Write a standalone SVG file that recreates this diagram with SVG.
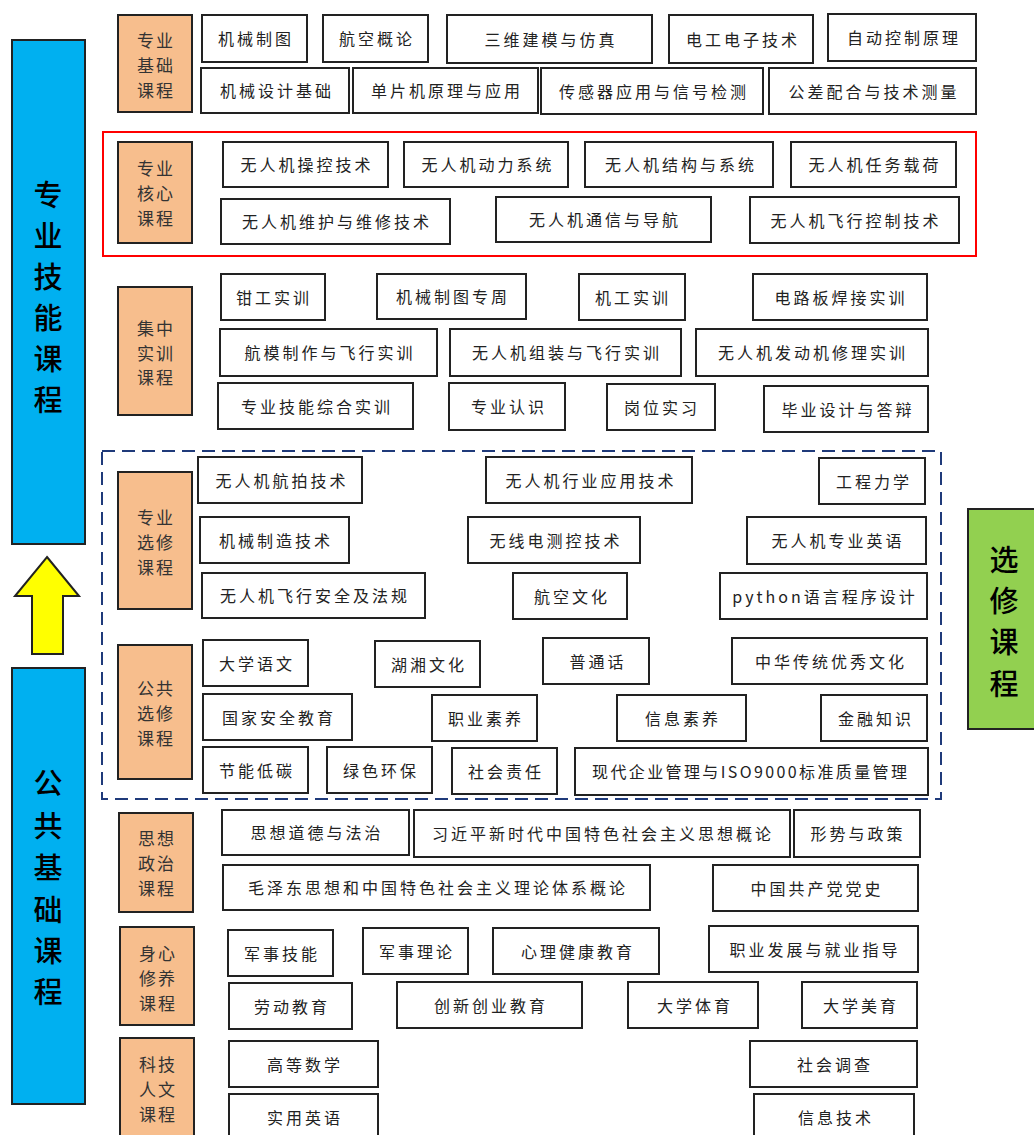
<svg xmlns="http://www.w3.org/2000/svg" width="1034" height="1135" viewBox="0 0 1034 1135">
<style>
.n rect{fill:#fff;stroke:#222;stroke-width:2}
.n text{font-family:"Noto Sans CJK SC","Liberation Sans",sans-serif;font-size:16px;letter-spacing:3px;fill:#222;text-anchor:middle;dominant-baseline:central}
.c rect{fill:#F7BE8D;stroke:#222;stroke-width:2}
.c text{font-family:"Noto Sans CJK SC","Liberation Sans",sans-serif;font-size:17px;letter-spacing:2px;fill:#333;text-anchor:middle;dominant-baseline:central}
.big text{font-family:"Noto Sans CJK SC","Liberation Sans",sans-serif;font-size:29px;font-weight:500;fill:#000;text-anchor:middle;dominant-baseline:central}
</style>
<rect width="1034" height="1135" fill="#fff"/>

<!-- big side bars -->
<g id="bar-major" class="big">
<rect x="12" y="40" width="73" height="504" fill="#00B0F0" stroke="#222" stroke-width="2"/>
<text x="48" y="193">专</text><text x="48" y="234">业</text><text x="48" y="275">技</text><text x="48" y="316">能</text><text x="48" y="357">课</text><text x="48" y="398">程</text>
</g>
<g id="bar-public" class="big">
<rect x="12" y="668" width="73" height="436" fill="#00B0F0" stroke="#222" stroke-width="2"/>
<text x="48" y="781">公</text><text x="48" y="824">共</text><text x="48" y="866">基</text><text x="48" y="908">础</text><text x="48" y="949">课</text><text x="48" y="990">程</text>
</g>
<g id="bar-elective" class="big">
<rect x="968" y="509" width="70" height="220" fill="#92D050" stroke="#222" stroke-width="2"/>
<text x="1004" y="558">选</text><text x="1004" y="599">修</text><text x="1004" y="640">课</text><text x="1004" y="682">程</text>
</g>

<g id="connectors">
<polygon points="47,557 79,596 63,596 63,654 32,654 32,596 15,596" fill="#FFFF00" stroke="#222" stroke-width="2"/>
</g>

<!-- group frames -->
<g id="frame-core"><rect x="103" y="132" width="873" height="124" fill="none" stroke="#FF0000" stroke-width="2"/></g>
<g id="frame-elective"><rect x="102" y="451" width="839" height="348" fill="none" stroke="#1F3A7A" stroke-width="2" stroke-dasharray="13,7"/></g>

<!-- category labels -->
<g id="cat-foundation" class="c"><rect x="118" y="15" width="74" height="97"/><text x="156" y="39">专业</text><text x="156" y="64">基础</text><text x="156" y="89">课程</text></g>
<g id="cat-core" class="c"><rect x="118" y="142" width="74" height="101"/><text x="156" y="167">专业</text><text x="156" y="192">核心</text><text x="156" y="217">课程</text></g>
<g id="cat-practice" class="c"><rect x="118" y="287" width="74" height="128"/><text x="156" y="327">集中</text><text x="156" y="352">实训</text><text x="156" y="376">课程</text></g>
<g id="cat-pro-elective" class="c"><rect x="118" y="472" width="74" height="137"/><text x="156" y="516">专业</text><text x="156" y="541">选修</text><text x="156" y="566">课程</text></g>
<g id="cat-pub-elective" class="c"><rect x="118" y="645" width="74" height="134"/><text x="156" y="687">公共</text><text x="156" y="712">选修</text><text x="156" y="737">课程</text></g>
<g id="cat-politics" class="c"><rect x="119" y="813" width="74" height="99"/><text x="157" y="837">思想</text><text x="157" y="862">政治</text><text x="157" y="887">课程</text></g>
<g id="cat-body" class="c"><rect x="120" y="927" width="74" height="98"/><text x="158" y="952">身心</text><text x="158" y="977">修养</text><text x="158" y="1002">课程</text></g>
<g id="cat-science" class="c"><rect x="120" y="1038" width="74" height="104"/><text x="158" y="1063">科技</text><text x="158" y="1088">人文</text><text x="158" y="1113">课程</text></g>

<!-- foundation -->
<g id="f1" class="n"><rect x="202" y="15" width="105" height="47"/><text x="256" y="38">机械制图</text></g>
<g id="f2" class="n"><rect x="323" y="15" width="105" height="47"/><text x="377" y="38">航空概论</text></g>
<g id="f3" class="n"><rect x="447" y="15" width="205" height="48"/><text x="551" y="39">三维建模与仿真</text></g>
<g id="f4" class="n"><rect x="669" y="15" width="144" height="48"/><text x="743" y="39">电工电子技术</text></g>
<g id="f5" class="n"><rect x="828" y="14" width="148" height="47"/><text x="904" y="37">自动控制原理</text></g>
<g id="f6" class="n"><rect x="201" y="68" width="148" height="45"/><text x="277" y="90">机械设计基础</text></g>
<g id="f7" class="n"><rect x="353" y="68" width="185" height="45"/><text x="447" y="90">单片机原理与应用</text></g>
<g id="f8" class="n"><rect x="541" y="68" width="222" height="46"/><text x="654" y="91">传感器应用与信号检测</text></g>
<g id="f9" class="n"><rect x="769" y="68" width="207" height="46"/><text x="874" y="91">公差配合与技术测量</text></g>

<!-- core -->
<g id="k1" class="n"><rect x="223" y="142" width="165" height="45"/><text x="307" y="164">无人机操控技术</text></g>
<g id="k2" class="n"><rect x="404" y="142" width="164" height="45"/><text x="488" y="164">无人机动力系统</text></g>
<g id="k3" class="n"><rect x="585" y="142" width="188" height="45"/><text x="681" y="164">无人机结构与系统</text></g>
<g id="k4" class="n"><rect x="791" y="142" width="165" height="45"/><text x="875" y="164">无人机任务载荷</text></g>
<g id="k5" class="n"><rect x="221" y="199" width="229" height="45"/><text x="337" y="221">无人机维护与维修技术</text></g>
<g id="k6" class="n"><rect x="496" y="197" width="215" height="45"/><text x="605" y="219">无人机通信与导航</text></g>
<g id="k7" class="n"><rect x="750" y="197" width="209" height="46"/><text x="856" y="220">无人机飞行控制技术</text></g>

<!-- practice -->
<g id="p1" class="n"><rect x="221" y="274" width="104" height="46"/><text x="274" y="297">钳工实训</text></g>
<g id="p2" class="n"><rect x="377" y="274" width="149" height="45"/><text x="453" y="296">机械制图专周</text></g>
<g id="p3" class="n"><rect x="579" y="274" width="106" height="46"/><text x="633" y="297">机工实训</text></g>
<g id="p4" class="n"><rect x="753" y="274" width="174" height="46"/><text x="841" y="297">电路板焊接实训</text></g>
<g id="p5" class="n"><rect x="220" y="329" width="217" height="47"/><text x="330" y="352">航模制作与飞行实训</text></g>
<g id="p6" class="n"><rect x="450" y="329" width="231" height="47"/><text x="567" y="352">无人机组装与飞行实训</text></g>
<g id="p7" class="n"><rect x="696" y="329" width="232" height="47"/><text x="813" y="352">无人机发动机修理实训</text></g>
<g id="p8" class="n"><rect x="218" y="383" width="195" height="46"/><text x="317" y="406">专业技能综合实训</text></g>
<g id="p9" class="n"><rect x="449" y="383" width="116" height="47"/><text x="509" y="406">专业认识</text></g>
<g id="p10" class="n"><rect x="607" y="384" width="108" height="46"/><text x="662" y="407">岗位实习</text></g>
<g id="p11" class="n"><rect x="764" y="386" width="164" height="46"/><text x="848" y="409">毕业设计与答辩</text></g>

<!-- professional electives -->
<g id="e1" class="n"><rect x="198" y="457" width="164" height="46"/><text x="282" y="480">无人机航拍技术</text></g>
<g id="e2" class="n"><rect x="486" y="457" width="206" height="46"/><text x="591" y="480">无人机行业应用技术</text></g>
<g id="e3" class="n"><rect x="819" y="458" width="106" height="46"/><text x="874" y="481">工程力学</text></g>
<g id="e4" class="n"><rect x="200" y="517" width="149" height="46"/><text x="276" y="540">机械制造技术</text></g>
<g id="e5" class="n"><rect x="468" y="517" width="172" height="46"/><text x="556" y="540">无线电测控技术</text></g>
<g id="e6" class="n"><rect x="747" y="517" width="179" height="47"/><text x="838" y="540">无人机专业英语</text></g>
<g id="e7" class="n"><rect x="202" y="573" width="223" height="45"/><text x="315" y="595">无人机飞行安全及法规</text></g>
<g id="e8" class="n"><rect x="513" y="573" width="114" height="46"/><text x="572" y="596">航空文化</text></g>
<g id="e9" class="n"><rect x="720" y="573" width="207" height="46"/><text x="825" y="596" letter-spacing="1.5">python语言程序设计</text></g>

<!-- public electives -->
<g id="g1" class="n"><rect x="203" y="640" width="105" height="46"/><text x="257" y="663">大学语文</text></g>
<g id="g2" class="n"><rect x="375" y="641" width="105" height="46"/><text x="429" y="664">湖湘文化</text></g>
<g id="g3" class="n"><rect x="543" y="638" width="106" height="46"/><text x="598" y="661">普通话</text></g>
<g id="g4" class="n"><rect x="732" y="638" width="195" height="46"/><text x="831" y="661">中华传统优秀文化</text></g>
<g id="g5" class="n"><rect x="203" y="694" width="149" height="46"/><text x="279" y="717">国家安全教育</text></g>
<g id="g6" class="n"><rect x="432" y="695" width="105" height="46"/><text x="486" y="718">职业素养</text></g>
<g id="g7" class="n"><rect x="617" y="695" width="129" height="46"/><text x="683" y="718">信息素养</text></g>
<g id="g8" class="n"><rect x="821" y="695" width="106" height="46"/><text x="876" y="718">金融知识</text></g>
<g id="g9" class="n"><rect x="203" y="747" width="105" height="46"/><text x="257" y="770">节能低碳</text></g>
<g id="g10" class="n"><rect x="327" y="747" width="105" height="46"/><text x="381" y="770">绿色环保</text></g>
<g id="g11" class="n"><rect x="452" y="748" width="105" height="46"/><text x="506" y="771">社会责任</text></g>
<g id="g12" class="n"><rect x="575" y="748" width="353" height="47"/><text x="751" y="771" textLength="318" lengthAdjust="spacing">现代企业管理与ISO9000标准质量管理</text></g>

<!-- politics -->
<g id="s1" class="n"><rect x="222" y="810" width="187" height="45"/><text x="317" y="832">思想道德与法治</text></g>
<g id="s2" class="n"><rect x="414" y="810" width="376" height="47"/><text x="603" y="833">习近平新时代中国特色社会主义思想概论</text></g>
<g id="s3" class="n"><rect x="794" y="810" width="126" height="47"/><text x="858" y="833">形势与政策</text></g>
<g id="s4" class="n"><rect x="223" y="865" width="427" height="45"/><text x="438" y="887">毛泽东思想和中国特色社会主义理论体系概论</text></g>
<g id="s5" class="n"><rect x="713" y="865" width="205" height="46"/><text x="817" y="888">中国共产党党史</text></g>

<!-- body & mind -->
<g id="b1" class="n"><rect x="228" y="930" width="105" height="46"/><text x="282" y="953">军事技能</text></g>
<g id="b2" class="n"><rect x="363" y="928" width="105" height="46"/><text x="417" y="951">军事理论</text></g>
<g id="b3" class="n"><rect x="493" y="928" width="166" height="46"/><text x="578" y="951">心理健康教育</text></g>
<g id="b4" class="n"><rect x="709" y="926" width="209" height="46"/><text x="815" y="949">职业发展与就业指导</text></g>
<g id="b5" class="n"><rect x="229" y="983" width="123" height="46"/><text x="292" y="1006">劳动教育</text></g>
<g id="b6" class="n"><rect x="397" y="982" width="185" height="46"/><text x="491" y="1005">创新创业教育</text></g>
<g id="b7" class="n"><rect x="628" y="982" width="130" height="46"/><text x="695" y="1005">大学体育</text></g>
<g id="b8" class="n"><rect x="802" y="982" width="115" height="46"/><text x="861" y="1005">大学美育</text></g>

<!-- science & humanities -->
<g id="h1" class="n"><rect x="229" y="1041" width="149" height="46"/><text x="305" y="1064">高等数学</text></g>
<g id="h2" class="n"><rect x="229" y="1094" width="149" height="46"/><text x="305" y="1117">实用英语</text></g>
<g id="h3" class="n"><rect x="750" y="1041" width="167" height="46"/><text x="835" y="1064">社会调查</text></g>
<g id="h4" class="n"><rect x="754" y="1094" width="160" height="46"/><text x="836" y="1117">信息技术</text></g>
</svg>
